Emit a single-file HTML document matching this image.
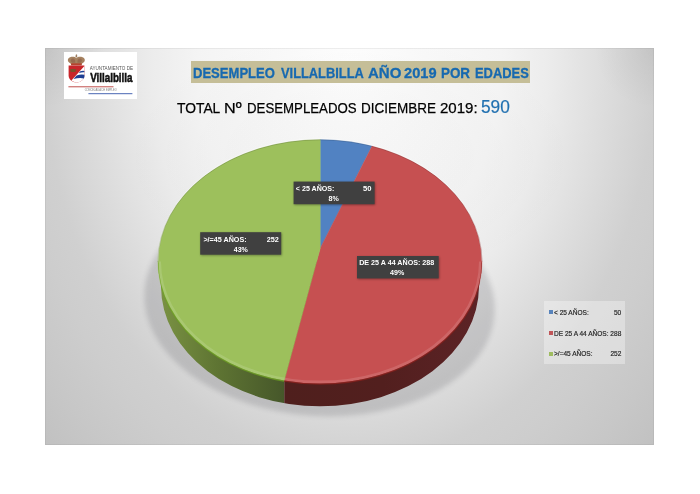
<!DOCTYPE html>
<html lang="es">
<head>
<meta charset="utf-8">
<title>Desempleo Villalbilla año 2019 por edades</title>
<style>
html,body{margin:0;padding:0;background:#fff;}
body{width:700px;height:494px;position:relative;overflow:hidden;font-family:"Liberation Sans",sans-serif;}
#chart{position:absolute;left:45px;top:48px;width:609px;height:397px;
  background:radial-gradient(circle 60px at 0 0,rgba(0,0,0,0.06),rgba(0,0,0,0)),radial-gradient(circle 60px at 100% 0,rgba(0,0,0,0.06),rgba(0,0,0,0)),radial-gradient(230px 130px at 304.5px 110px,rgba(0,0,0,0.016) 0%,rgba(0,0,0,0.014) 50%,rgba(0,0,0,0) 100%),radial-gradient(304.5px 396px at 304.5px 19.5px,#fefefe 0%,#f9f9f9 25%,#f4f4f4 50%,#ececec 65%,#e0e0e0 80%,#d8d8d8 90%,#d0d0d0 100%,#cdcdcd 110%,#c7c7c7 125%,#bebebe 145%);
  box-shadow:inset 0 0 0 1px rgba(110,110,110,0.10);}
#art{position:absolute;left:0;top:0;width:700px;height:494px;}
.t{position:absolute;white-space:nowrap;transform-origin:0 0;line-height:1;}
#logo{position:absolute;left:64.2px;top:51.7px;width:72.5px;height:47.7px;background:#fff;}
#logo svg{display:block;}
#title{position:absolute;left:190.5px;top:61px;width:339.8px;height:22px;background:#c5be98;}
#title span{top:4.6px;font-size:14.9px;font-weight:bold;color:#1769b0;-webkit-text-stroke:0.3px #1769b0;}
#sub span{font-size:15.2px;color:#000;top:100.2px;-webkit-text-stroke:0.25px #000;}
#sub b{font-weight:normal;font-size:17.8px;color:#2170b0;left:481px;top:99.3px;transform:scaleX(0.972);-webkit-text-stroke:0.2px #2170b0;}
#legend{position:absolute;left:544px;top:301px;width:80.5px;height:62.5px;background:rgba(255,255,255,0.33);}
#legend i{position:absolute;left:4.7px;width:4.1px;height:3.8px;}
#legend span{font-size:7.4px;color:#262626;-webkit-text-stroke:0.2px #262626;transform:scaleX(0.885);}
#legend span.r{left:auto;right:2.9px;transform-origin:100% 0;}
</style>
</head>
<body>
<div id="chart"></div>

<svg id="art" viewBox="0 0 700 494" width="700" height="494">
  <defs>
    <filter id="blur" x="-20%" y="-20%" width="140%" height="140%"><feGaussianBlur stdDeviation="2.6"/></filter>
    <filter id="lblsh" x="-10%" y="-30%" width="120%" height="160%"><feGaussianBlur stdDeviation="1"/></filter>
    <linearGradient id="gside" gradientUnits="userSpaceOnUse" x1="160" y1="0" x2="284" y2="0">
      <stop offset="0" stop-color="#7a9243"/><stop offset="0.45" stop-color="#5f7533"/><stop offset="1" stop-color="#46572a"/>
    </linearGradient>
    <linearGradient id="rside" gradientUnits="userSpaceOnUse" x1="284" y1="0" x2="482" y2="0">
      <stop offset="0" stop-color="#4f1f1d"/><stop offset="0.5" stop-color="#521f1e"/><stop offset="1" stop-color="#5c2326"/>
    </linearGradient>
    <clipPath id="sideclip"><path d="M158 261.6 L482 261.6 L479 286.3 A159 120 0 0 1 161 286.3 Z"/></clipPath>
    <clipPath id="topclip"><ellipse cx="320" cy="261.6" rx="162" ry="122"/></clipPath>
    <clipPath id="silh"><ellipse cx="320" cy="261.6" rx="162" ry="122"/><path d="M158 261.6 L482 261.6 L479 286.3 A159 120 0 0 1 161 286.3 Z"/></clipPath>
    <clipPath id="gclip"><rect x="150" y="250" width="134.2" height="170"/></clipPath>
    <clipPath id="rclip"><rect x="284.2" y="250" width="210" height="170"/></clipPath>
  </defs>

  <!-- shadow -->
  <ellipse cx="319.5" cy="302.5" rx="175.5" ry="113.5" transform="rotate(3.7 319.5 302.5)" fill="#20242c" opacity="0.15" filter="url(#blur)"/>

  <!-- side -->
  <g clip-path="url(#sideclip)">
    <rect x="150" y="255" width="134.3" height="160" fill="url(#gside)"/>
    <rect x="284.3" y="255" width="200" height="160" fill="url(#rside)"/>
  </g>

  <!-- top face -->
  <path d="M320.2 248.4 L320.2 139.6 A162 122 0 0 1 372.1 146.1 Z" fill="#5182c2" stroke="#5182c2" stroke-width="0.5" stroke-linejoin="round"/>
  <path d="M320.2 248.4 L372.1 146.1 A162 122 0 0 1 284.2 380.6 Z" fill="#c65051" stroke="#c65051" stroke-width="0.5" stroke-linejoin="round"/>
  <path d="M320.2 248.4 L284.2 380.6 A162 122 0 0 1 320.2 139.6 Z" fill="#9dc05c" stroke="#9dc05c" stroke-width="0.5" stroke-linejoin="round"/>

  <!-- bevel highlights -->
  <path d="M158 261.6 A162 122 0 0 1 482 261.6" fill="none" stroke="#fff" stroke-opacity="0.55" stroke-width="1" transform="translate(0,-0.7)"/>
  <path d="M158 261.6 A162 122 0 0 1 482 261.6" fill="none" stroke="#000" stroke-opacity="0.16" stroke-width="0.9" transform="translate(0,0.2)"/>
  <g clip-path="url(#topclip)">
    <path d="M158 261.6 A162 122 0 0 0 482 261.6" fill="none" stroke="#fff" stroke-opacity="0.13" stroke-width="6"/>
  </g>
  <g clip-path="url(#silh)">
  <g clip-path="url(#gclip)"><path d="M158 261.6 A162 122 0 0 0 482 261.6" fill="none" stroke="#6c9c22" stroke-opacity="0.8" stroke-width="1.2" transform="translate(0,0.6)"/></g>
  <g clip-path="url(#rclip)"><path d="M158 261.6 A162 122 0 0 0 482 261.6" fill="none" stroke="#861f1c" stroke-opacity="0.8" stroke-width="1.2" transform="translate(0,0.6)"/></g>
  </g>

  <!-- data labels -->
  <g font-family="Liberation Sans, sans-serif" font-weight="bold" font-size="8.05" fill="#fff">
    <rect x="294.2" y="182.4" width="81" height="22.6" fill="#000" opacity="0.35" filter="url(#lblsh)"/>
    <rect x="293.6" y="181.6" width="81" height="22.6" fill="#404040"/>
    <text x="295.8" y="191.3" textLength="38.7" lengthAdjust="spacingAndGlyphs">&lt; 25 AÑOS:</text>
    <text x="363" y="191.3" textLength="8.5" lengthAdjust="spacingAndGlyphs">50</text>
    <text x="328.5" y="200.8" textLength="10.3" lengthAdjust="spacingAndGlyphs">8%</text>

    <rect x="357.6" y="256.8" width="81.7" height="22.4" fill="#000" opacity="0.35" filter="url(#lblsh)"/>
    <rect x="357" y="256" width="81.7" height="22.4" fill="#404040"/>
    <text x="359.2" y="264.8" textLength="75.1" lengthAdjust="spacingAndGlyphs">DE 25 A 44 AÑOS: 288</text>
    <text x="390" y="274.9" textLength="14.2" lengthAdjust="spacingAndGlyphs">49%</text>

    <rect x="200.8" y="233" width="81" height="22.5" fill="#000" opacity="0.35" filter="url(#lblsh)"/>
    <rect x="200.2" y="232.2" width="81" height="22.5" fill="#404040"/>
    <text x="203.4" y="241.7" textLength="43.2" lengthAdjust="spacingAndGlyphs">&gt;/=45 AÑOS:</text>
    <text x="266.7" y="241.7" textLength="12.1" lengthAdjust="spacingAndGlyphs">252</text>
    <text x="233.7" y="251.6" textLength="14.2" lengthAdjust="spacingAndGlyphs">43%</text>
  </g>
</svg>

<div id="logo">
  <svg viewBox="0 0 72.5 47.7" width="72.5" height="47.7">
    <!-- crown -->
    <rect x="12" y="2.4" width="0.7" height="2.2" fill="#8d6a4c"/>
    <rect x="11.4" y="2.9" width="1.9" height="0.6" fill="#8d6a4c"/>
    <circle cx="12.35" cy="4.6" r="0.9" fill="#9a7757"/>
    <path d="M7.2 13.2 L17.5 13.2 L18.1 11.4 C21.6 10.2 21.7 6.3 18.6 5.3 C16.2 4.5 13.6 4.8 12.35 6.2 C11.1 4.800 8.500 4.500 6.100 5.300 C3 6.300 3.100 10.200 6.600 11.400 Z" fill="#a5815f"/>
    <path d="M8.2 10.8 C6.5 9.8 6.3 7.6 7.8 6.8 C9 6.2 10.4 6.800 11 8 L11.300 10.800 Z M16.500 10.800 C18.200 9.800 18.400 7.600 16.900 6.800 C15.700 6.200 14.300 6.800 13.700 8 L13.400 10.800 Z" fill="#8a5a44" opacity="0.55"/>
    <rect x="7.1" y="11.300" width="10.500" height="2" fill="#b5432f"/>
    <!-- shield -->
    <path d="M4.600 13.500 H20.400 V23.500 C20.400 27.800 16.500 30 12.500 30.700 C8.500 30 4.600 27.800 4.600 23.500 Z" fill="#c8252a"/>
    <path d="M20.400 14 V23.500 C20.400 27.800 16.500 30 12.500 30.700 C10.600 30.400 8.800 29.700 7.400 28.600 Z" fill="#fff"/>
    <path d="M16.300 19.300 Q18.300 18.500 20.400 18.900 V20.300 Q18.200 20 14.800 21 Z M12.600 23.400 Q16.500 22 20.400 22.700 V24.600 C20.300 25.300 20.100 25.900 19.800 26.400 Q15 25.600 9.500 27 Z" fill="#1f3f93"/>
    <rect x="6.300" y="17" width="5.600" height="2.900" rx="0.800" fill="#6d5a2c" opacity="0.85"/>
    <!-- wordmark -->
    <text x="25.800" y="18.300" font-family="Liberation Sans, sans-serif" font-size="6" fill="#555" textLength="43.200" lengthAdjust="spacingAndGlyphs">AYUNTAMIENTO DE</text>
    <text x="26.200" y="29.600" font-family="Liberation Sans, sans-serif" font-weight="bold" font-size="13.600" fill="#111" stroke="#111" stroke-width="0.600" textLength="42.300" lengthAdjust="spacingAndGlyphs">Villalbilla</text>
    <rect x="4.400" y="34.300" width="45.100" height="1" fill="#c0504d"/>
    <text x="20.700" y="39.500" font-family="Liberation Sans, sans-serif" font-size="2.900" fill="#777" textLength="32.100" lengthAdjust="spacingAndGlyphs">CONCEJALÍA DE EMPLEO</text>
    <rect x="24.400" y="41.200" width="44" height="1" fill="#4a68b4"/>
  </svg>
</div>

<div id="title"><span class="t" id="tw0" style="left:2.92px;transform:scaleX(0.8761)">DESEMPLEO</span> <span class="t" id="tw1" style="left:90.80px;transform:scaleX(0.8628)">VILLALBILLA</span> <span class="t" id="tw2" style="left:177.65px;transform:scaleX(1.0109)">AÑO</span> <span class="t" id="tw3" style="left:213.71px;transform:scaleX(0.9829)">2019</span> <span class="t" id="tw4" style="left:250.70px;transform:scaleX(0.9000)">POR</span> <span class="t" id="tw5" style="left:284.23px;transform:scaleX(0.8661)">EDADES</span></div>
<div id="sub"><span class="t" id="sw0" style="left:176.67px;transform:scaleX(0.9106)">TOTAL</span> <span class="t" id="sw1" style="left:223.54px;transform:scaleX(1.0645)">Nº</span> <span class="t" id="sw2" style="left:246.53px;transform:scaleX(0.8716)">DESEMPLEADOS</span> <span class="t" id="sw3" style="left:360.81px;transform:scaleX(0.8880)">DICIEMBRE</span> <span class="t" id="sw4" style="left:440.40px;transform:scaleX(0.9903)">2019:</span> <b class="t" id="subnum">590</b></div>

<div id="legend">
  <i style="top:9.3px;background:#5884bc"></i>
  <i style="top:30.100px;background:#c05558"></i>
  <i style="top:50.800px;background:#9fbc60"></i>
  <span class="t" id="l1a" style="left:10.300px;top:7.800px">&lt; 25 AÑOS:</span><span class="t r" id="l1b" style="top:7.800px">50</span>
  <span class="t" id="l2a" style="left:10.300px;top:28.600px">DE 25 A 44 AÑOS: 288</span>
  <span class="t" id="l3a" style="left:10.300px;top:49.300px">&gt;/=45 AÑOS:</span><span class="t r" id="l3b" style="top:49.300px">252</span>
</div>
</body>
</html>
